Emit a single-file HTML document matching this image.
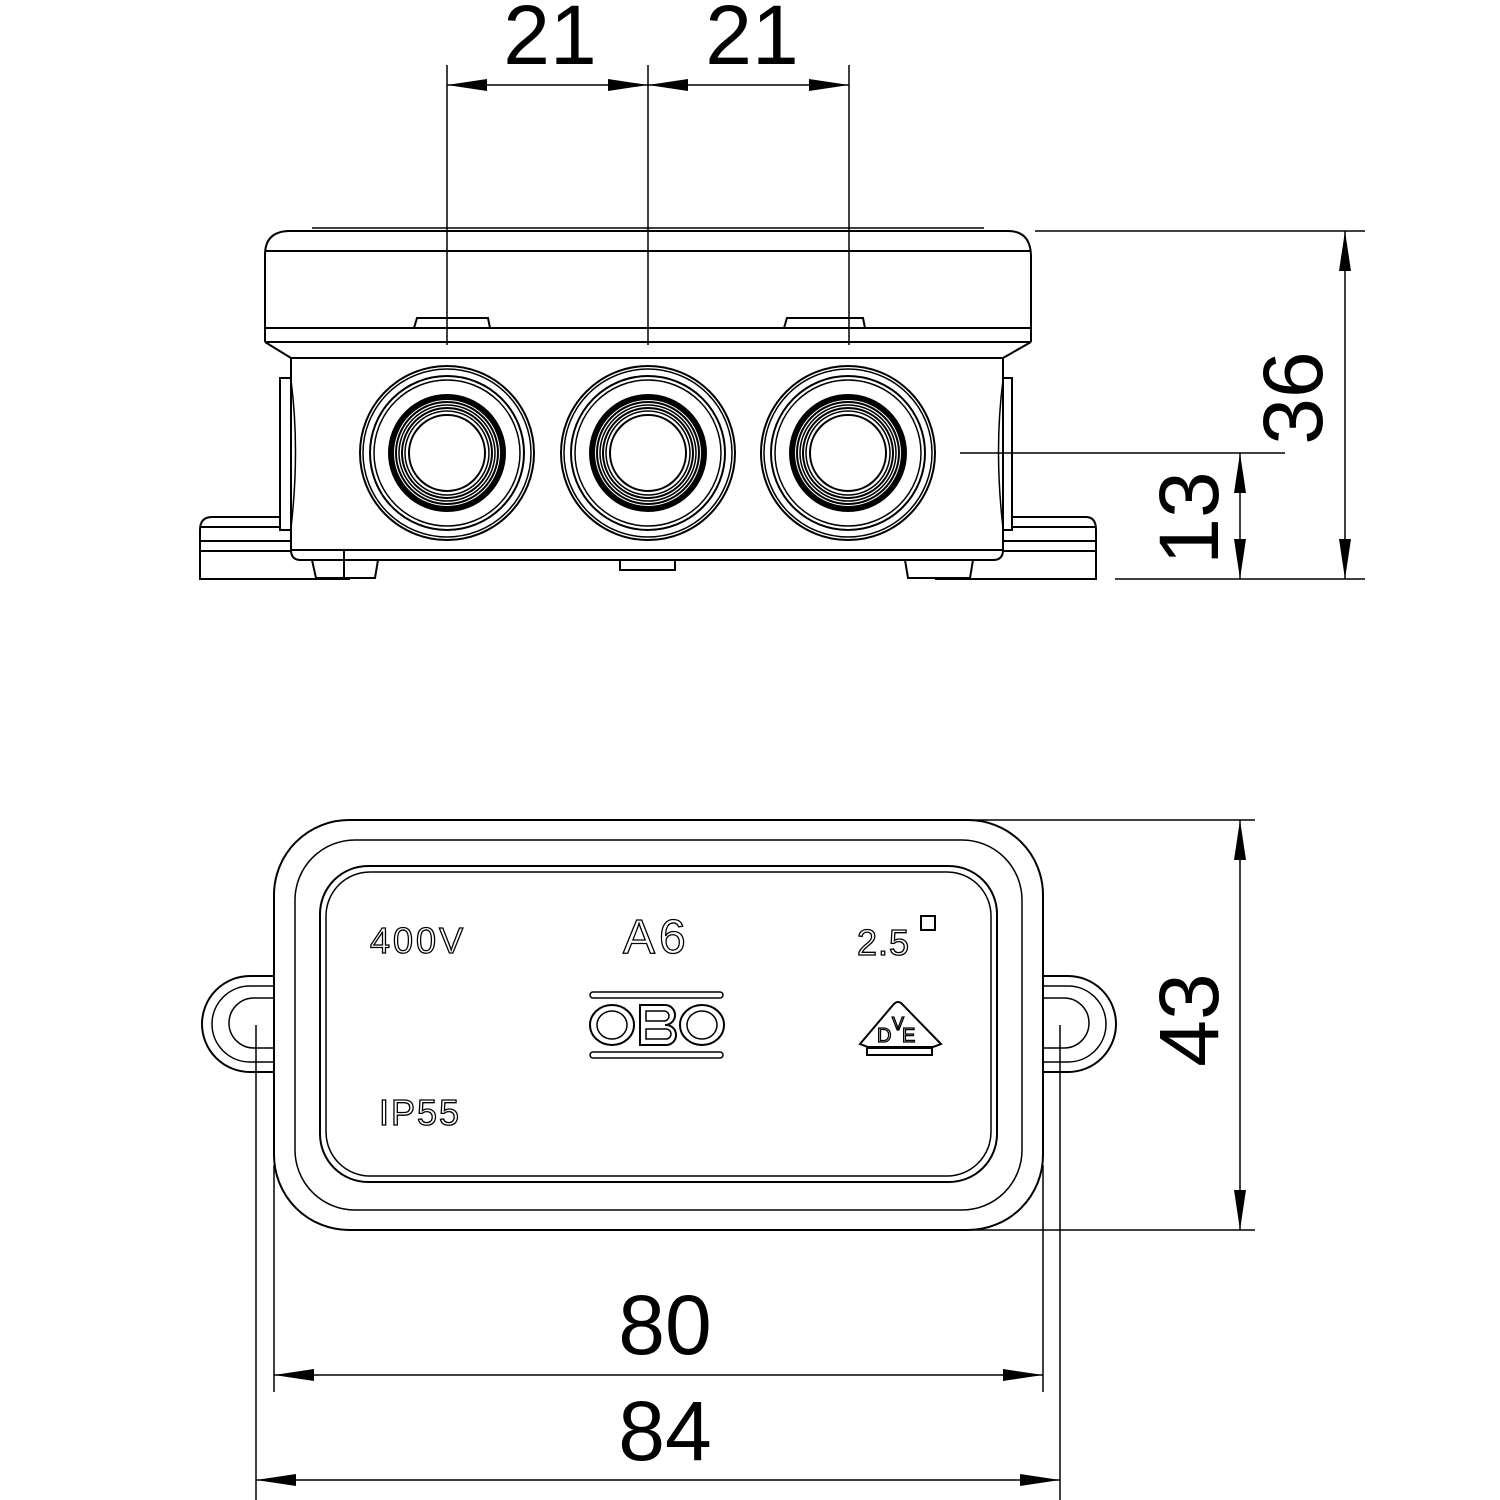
<!DOCTYPE html>
<html><head><style>html,body{margin:0;padding:0;background:#fff}svg{display:block}</style></head>
<body>
<svg width="1500" height="1500" viewBox="0 0 1500 1500" xmlns="http://www.w3.org/2000/svg" font-family="Liberation Sans, sans-serif">
<defs>
<marker id="ar" viewBox="0 0 40 12" refX="40" refY="6" markerWidth="40" markerHeight="12" markerUnits="userSpaceOnUse" orient="auto-start-reverse"><path d="M0,0 L40,6 L0,12 Z" fill="#000"/></marker>
<g id="gland" fill="none" stroke="#000">
<circle r="87" stroke-width="2"/><circle r="84" stroke-width="1.5"/>
<circle r="77" stroke-width="2"/><circle r="73" stroke-width="1.5"/>
<circle r="56" stroke-width="6"/><circle r="51" stroke-width="2"/><circle r="48" stroke-width="1.5"/>
<circle r="45" stroke-width="2"/><circle r="42" stroke-width="1.5"/><circle r="38" stroke-width="2"/>
</g>
</defs>
<g fill="none" stroke="#000" stroke-width="2">
<path d="M265,342 L265,255 Q265,231 290,231 L1008,231 Q1030,231 1031,255 L1031,342"/>
<line x1="312" y1="228" x2="984" y2="228" stroke-width="1.5"/>
<line x1="265" y1="251" x2="1031" y2="251"/>
<line x1="265" y1="328" x2="1031" y2="328"/>
<line x1="265" y1="342" x2="1031" y2="342"/>
<path d="M265,342 L291,358 L1003,358 L1031,342"/>
<path d="M414,328 L417,318 L488,318 L490,328"/>
<path d="M784,328 L787,318 L863,318 L865,328"/>
<path d="M291,358 L291,550 Q291,560 301,560 L993,560 Q1003,560 1003,550 L1003,358"/>
<line x1="291" y1="550" x2="1003" y2="550"/>
<path d="M291,378 L280,378 L280,530 L291,530"/>
<path d="M1003,378 L1012,378 L1012,530 L1003,530"/>
<path d="M291,380 Q300,450 291,528" stroke-width="1.5"/>
<path d="M1003,380 Q994,450 1003,528" stroke-width="1.5"/>
<path d="M280,517 L212,517 Q200,517 200,530 L200,579 L350,579"/>
<line x1="200" y1="527" x2="280" y2="527"/><line x1="200" y1="541" x2="291" y2="541"/><line x1="200" y1="551" x2="291" y2="551"/>
<path d="M1012,517 L1086,517 Q1096,517 1096,530 L1096,579 L935,579"/>
<line x1="1012" y1="527" x2="1096" y2="527"/><line x1="1003" y1="541" x2="1096" y2="541"/><line x1="1003" y1="551" x2="1096" y2="551"/>
<path d="M312,560 L316,578 L375,578 L378,560"/><line x1="344" y1="550" x2="344" y2="578"/>
<path d="M620,560 L620,570 L675,570 L675,560"/>
<path d="M905,560 L908,578 L970,578 L973,560"/>
</g>
<use href="#gland" x="447" y="453"/>
<use href="#gland" x="648" y="453"/>
<use href="#gland" x="848" y="453"/>
<g stroke="#000" stroke-width="1.5" fill="none">
<line x1="447" y1="65" x2="447" y2="345"/><line x1="648" y1="65" x2="648" y2="345"/><line x1="849" y1="65" x2="849" y2="345"/>
<line x1="447" y1="85" x2="648" y2="85" marker-start="url(#ar)" marker-end="url(#ar)"/>
<line x1="648" y1="85" x2="849" y2="85" marker-start="url(#ar)" marker-end="url(#ar)"/>
<line x1="1035" y1="231" x2="1365" y2="231"/>
<line x1="1115" y1="579" x2="1365" y2="579"/>
<line x1="960" y1="453" x2="1285" y2="453"/>
<line x1="1345" y1="231" x2="1345" y2="579" marker-start="url(#ar)" marker-end="url(#ar)"/>
<line x1="1240" y1="453" x2="1240" y2="579" marker-start="url(#ar)" marker-end="url(#ar)"/>
</g>
<g font-size="84" text-anchor="middle" fill="#000">
<text x="550" y="64">21</text><text x="752" y="64">21</text>
<text transform="translate(1322,398) rotate(-90)">36</text>
<text transform="translate(1218,518) rotate(-90)">13</text>
</g>
<g fill="none" stroke="#000" stroke-width="2">
<rect x="274" y="820" width="769" height="410" rx="75"/>
<rect x="295" y="840" width="727" height="370" rx="60" stroke-width="1.5"/>
<rect x="320" y="866" width="677" height="316" rx="48"/>
<rect x="326" y="872" width="665" height="304" rx="44" stroke-width="1.5"/>
<path d="M274,976 L250,976 A38,38 0 0 0 250,1072 L274,1072"/>
<path d="M274,986 L250,986 A29,29 0 0 0 250,1062 L274,1062" stroke-width="1.5"/>
<path d="M274,998 L254,998 A18,18 0 0 0 254,1048 L274,1048" stroke-width="1.5"/>
<path d="M1043,976 L1068,976 A38,38 0 0 1 1068,1072 L1043,1072"/>
<path d="M1043,986 L1068,986 A29,29 0 0 1 1068,1062 L1043,1062" stroke-width="1.5"/>
<path d="M1043,998 L1064,998 A18,18 0 0 1 1064,1048 L1043,1048" stroke-width="1.5"/>
<rect x="590" y="992" width="133" height="6" rx="3" stroke-width="1.5"/>
<rect x="590" y="1052" width="133" height="6" rx="3" stroke-width="1.5"/>
<ellipse cx="612" cy="1025" rx="22" ry="20" stroke-width="2"/><ellipse cx="612" cy="1025" rx="15" ry="14" stroke-width="1.5"/>
<ellipse cx="702" cy="1025" rx="22" ry="20" stroke-width="2"/><ellipse cx="702" cy="1025" rx="15" ry="14" stroke-width="1.5"/>
<path d="M640,1005 H665 A10,10 0 0 1 665,1025 A10,10 0 0 1 667,1045 H640 Z"/>
<path d="M646,1011 H664 A4,4 0 0 1 664,1021 H646 Z M646,1029 H666 A5,5 0 0 1 666,1039 H646 Z" stroke-width="1.5"/>
<path d="M860,1044 L893,1005 Q898,999 903,1005 L941,1044 L933,1047 L868,1047 Z" stroke-width="2"/>
<rect x="867" y="1048" width="65" height="7" stroke-width="2"/>
<rect x="921" y="916" width="14" height="14" stroke-width="2"/>
</g>
<g fill="#fff" stroke="#000" stroke-width="1.3">
<text x="370" y="953" font-size="36" letter-spacing="3">400V</text>
<text x="623" y="953" font-size="48" letter-spacing="4">A6</text>
<text x="857" y="955" font-size="36" letter-spacing="1">2.5</text>
<text x="379" y="1125" font-size="36" letter-spacing="2">IP55</text>
<text x="877" y="1042" font-size="20">D</text><text x="892" y="1030" font-size="18">V</text><text x="902" y="1042" font-size="20">E</text>
</g>
<g stroke="#000" stroke-width="1.5" fill="none">
<line x1="970" y1="820" x2="1255" y2="820"/>
<line x1="970" y1="1230" x2="1255" y2="1230"/>
<line x1="1240" y1="820" x2="1240" y2="1230" marker-start="url(#ar)" marker-end="url(#ar)"/>
<line x1="274" y1="1165" x2="274" y2="1392"/><line x1="1043" y1="1165" x2="1043" y2="1392"/>
<line x1="274" y1="1375" x2="1043" y2="1375" marker-start="url(#ar)" marker-end="url(#ar)"/>
<line x1="256" y1="1025" x2="256" y2="1500"/><line x1="1060" y1="1025" x2="1060" y2="1500"/>
<line x1="256" y1="1480" x2="1060" y2="1480" marker-start="url(#ar)" marker-end="url(#ar)"/>
</g>
<g font-size="84" text-anchor="middle" fill="#000">
<text transform="translate(1218,1020) rotate(-90)">43</text>
<text x="665" y="1354">80</text>
<text x="665" y="1460">84</text>
</g>
</svg>
</body></html>
